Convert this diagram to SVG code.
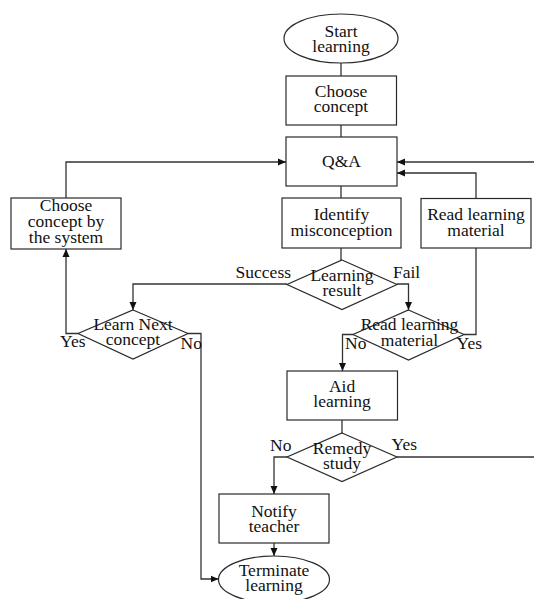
<svg xmlns="http://www.w3.org/2000/svg" width="534" height="599" viewBox="0 0 534 599">
  <style>
    .shape { fill: #ffffff; stroke: #2a2a2a; stroke-width: 1.2; }
    .line { fill: none; stroke: #333333; stroke-width: 1.3; }
    .arrow { fill: none; stroke: #333333; stroke-width: 1.3; marker-end: url(#head); }
    text { font-family: "Liberation Serif", "Times New Roman", serif; font-size: 17.5px; fill: #111111; }
    .c { text-anchor: middle; }
  </style>
  <defs>
    <marker id="head" viewBox="0 0 8 8" refX="8" refY="4" markerWidth="8" markerHeight="8" markerUnits="userSpaceOnUse" orient="auto">
      <path d="M0,0.5 L8,4 L0,7.5 Z" fill="#111111"/>
    </marker>
  </defs>

  <!-- connectors -->
  <g id="connectors">
    <path class="line" d="M341,63 V76"/>
    <path class="line" d="M341,125 V137"/>
    <path class="line" d="M341,186 V198"/>
    <path class="line" d="M341,248 V260"/>
    <path class="line" d="M342,420 V433"/>
    <!-- Learning result: Success / Fail -->
    <path class="arrow" d="M287,284 H133 V310"/>
    <path class="arrow" d="M397,284 H408.5 V310"/>
    <!-- Read learning material decision -->
    <path class="arrow" d="M353,334.5 H342.5 V371"/>
    <path class="line" d="M464,334.5 H476 V248"/>
    <path class="arrow" d="M476,198 V173 H397"/>
    <!-- Remedy study -->
    <path class="line" d="M397,457 H534"/>
    <path class="arrow" d="M534,162 H397"/>
    <path class="arrow" d="M287,457 H274 V494"/>
    <path class="arrow" d="M274,543 V556"/>
    <!-- Learn Next concept -->
    <path class="arrow" d="M78,333.5 H66 V249"/>
    <path class="arrow" d="M66,198 V162 H286"/>
    <path class="arrow" d="M188,333.5 H201 V579 H218.5"/>
  </g>

  <g id="start">
    <ellipse class="shape" cx="341" cy="38.5" rx="57" ry="24.5"/>
    <text class="c" x="341" y="36.5">Start</text>
    <text class="c" x="341" y="52">learning</text>
  </g>

  <g id="choose-concept">
    <rect class="shape" x="286" y="76" width="110.5" height="49"/>
    <text class="c" x="341" y="97">Choose</text>
    <text class="c" x="341" y="112">concept</text>
  </g>

  <g id="qa">
    <rect class="shape" x="286" y="137" width="111" height="49"/>
    <text class="c" x="341.5" y="167">Q&amp;A</text>
  </g>

  <g id="identify">
    <rect class="shape" x="282" y="198" width="119" height="50"/>
    <text class="c" x="341.5" y="220">Identify</text>
    <text class="c" x="341.5" y="235.5">misconception</text>
  </g>

  <g id="read-material">
    <rect class="shape" x="421" y="198.5" width="110" height="49.5"/>
    <text class="c" x="476" y="220">Read learning</text>
    <text class="c" x="476" y="235.5">material</text>
  </g>

  <g id="choose-by-system">
    <rect class="shape" x="11" y="198" width="110" height="51"/>
    <text class="c" x="66" y="211">Choose</text>
    <text class="c" x="66" y="227">concept by</text>
    <text class="c" x="66" y="243">the system</text>
  </g>

  <g id="learning-result">
    <polygon class="shape" points="342,260 397,284.5 342,309.5 287,284.5"/>
    <text class="c" x="342" y="281">Learning</text>
    <text class="c" x="342" y="296">result</text>
    <text x="291" y="278" text-anchor="end">Success</text>
    <text x="393" y="278">Fail</text>
  </g>

  <g id="read-decision">
    <polygon class="shape" points="408.5,310 464,334.5 408.5,360 353,334.5"/>
    <text class="c" x="409.5" y="330">Read learning</text>
    <text class="c" x="409.5" y="345.5">material</text>
    <text x="345" y="349">No</text>
    <text x="456.5" y="349">Yes</text>
  </g>

  <g id="learn-next">
    <polygon class="shape" points="133,310 188,333.5 133,359 78,333.5"/>
    <text class="c" x="133" y="330">Learn Next</text>
    <text class="c" x="133" y="345">concept</text>
    <text x="60" y="347">Yes</text>
    <text x="180.5" y="349">No</text>
  </g>

  <g id="aid-learning">
    <rect class="shape" x="287" y="371" width="110.5" height="49"/>
    <text class="c" x="342" y="392">Aid</text>
    <text class="c" x="342" y="406.5">learning</text>
  </g>

  <g id="remedy">
    <polygon class="shape" points="342,433 397,457 342,481.5 287,457"/>
    <text class="c" x="342" y="453.5">Remedy</text>
    <text class="c" x="342" y="468.5">study</text>
    <text x="270" y="451">No</text>
    <text x="391.5" y="450">Yes</text>
  </g>

  <g id="notify">
    <rect class="shape" x="219" y="494" width="110" height="49"/>
    <text class="c" x="274" y="516.5">Notify</text>
    <text class="c" x="274" y="531.5">teacher</text>
  </g>

  <g id="terminate">
    <ellipse class="shape" cx="274" cy="579.5" rx="55.5" ry="23.5"/>
    <text class="c" x="274" y="575.5">Terminate</text>
    <text class="c" x="274" y="590.5">learning</text>
  </g>
</svg>
